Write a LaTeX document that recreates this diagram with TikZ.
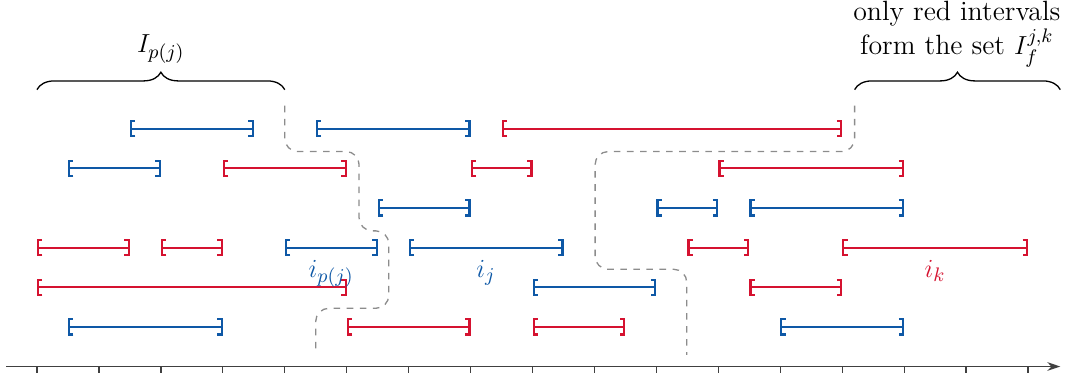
\documentclass[tikz,border=0pt]{standalone}
\usetikzlibrary{arrows.meta,decorations.pathreplacing}
\definecolor{ivblue}{RGB}{14,88,166}
\definecolor{ivred}{RGB}{213,18,48}
\begin{document}
\begin{tikzpicture}[
  font=\fontsize{12.8}{16}\selectfont,
  ivl/.style={line width=1pt, {Bracket[width=8pt,length=2pt]}-{Bracket[width=8pt,length=2pt]}},
  bl/.style={ivl, draw=ivblue},
  rd/.style={ivl, draw=ivred},
  sep/.style={dashed, draw=black!45, line width=0.6pt, rounded corners=6pt},
  axisline/.style={draw=black!75, line width=0.6pt, -{Stealth[length=6pt,width=4pt]}},
  tickmark/.style={draw=black!75, line width=0.6pt},
  brc/.style={decorate, decoration={brace, amplitude=8pt}, line width=0.6pt},
  lab/.style={below=3pt, inner sep=2.5pt}
]
\useasboundingbox (-0.597,-0.234) rectangle (16.725,5.917);
% axis
\coordinate (ax0) at (-0.5,0);
\coordinate (ax1) at (16.52,0);
\draw[axisline] (ax0) -- (ax1);
\foreach \t in {0,...,16} \draw[tickmark] (\t,0) -- (\t,-0.11);
% intervals
\foreach \a/\b/\r in {1.5/3.5/6, 4.5/7/6, 0.5/2/5, 5.5/7/4, 10/11/4, 11.5/14/4,
  4/5.5/3, 6/8.5/3, 8/10/2, 0.5/3/1, 12/14/1}
  \draw[bl] (\a,\r*0.64) -- (\b,\r*0.64);
\foreach \a/\b/\r in {7.5/13/6, 3/5/5, 7/8/5, 11/14/5, 0/1.5/3, 2/3/3, 10.5/11.5/3,
  13/16/3, 0/5/2, 11.5/13/2, 5/7/1, 8/9.5/1}
  \draw[rd] (\a,\r*0.64) -- (\b,\r*0.64);
% labels
\node[lab, text=ivblue] (ipj) at (4.75,1.92) {$i_{p(j)}$};
\node[lab, text=ivblue] (ij) at (7.25,1.92) {$i_j$};
\node[lab, text=ivred] (ik) at (14.5,1.92) {$i_k$};
% dashed separators
\draw[sep] (4,4.21) -- (4,3.47) -- (5.2,3.47) -- (5.2,2.19) -- (5.68,2.19)
  -- (5.68,0.94) -- (4.5,0.94) -- (4.5,0.19);
\draw[sep] (13.2,4.21) -- (13.2,3.47) -- (9.01,3.47) -- (9.01,1.57) -- (10.49,1.57)
  -- (10.49,0.19);
% braces
\draw[brc] (0,4.47) -- (4,4.47);
\draw[brc] (13.2,4.47) -- (16.52,4.47);
\node[anchor=base] (Ipj) at (2,5.07) {$I_{p(j)}$};
\node[anchor=base, align=center] (Ifjk) at (14.85,5.03) {only red intervals\\form the set $I_f^{j,k}$};
\end{tikzpicture}
\end{document}
